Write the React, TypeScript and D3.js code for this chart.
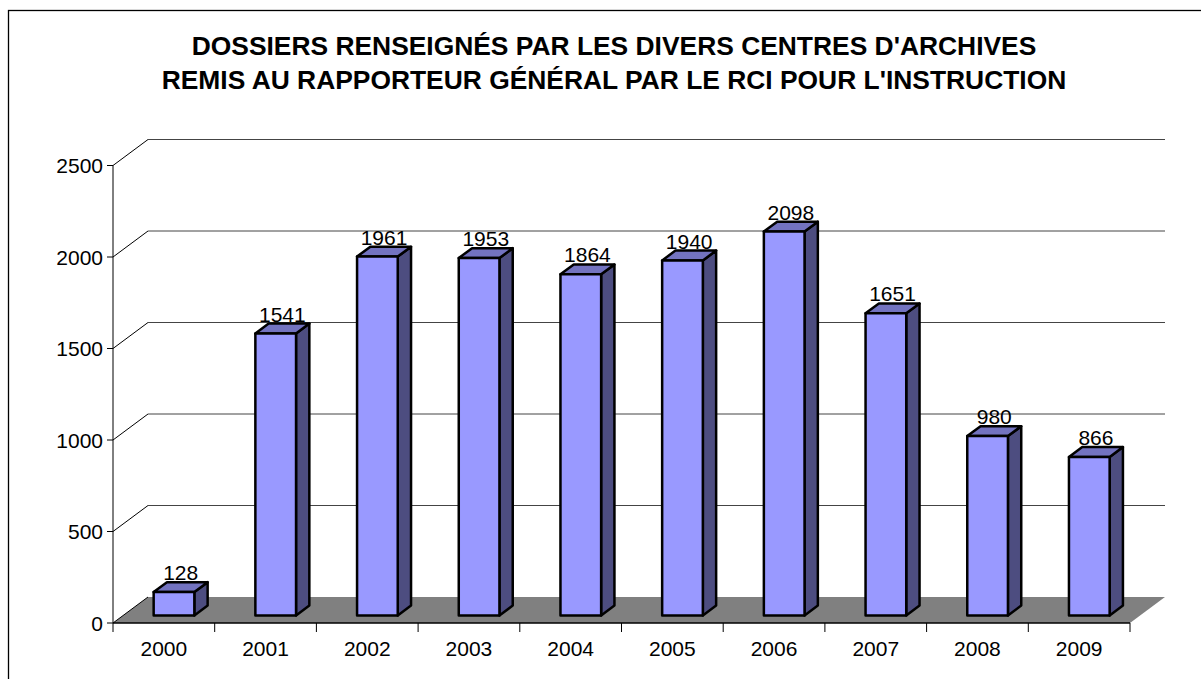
import React from "react";
import * as d3 from "d3";

const titleLines = [
  "DOSSIERS RENSEIGNÉS PAR LES DIVERS CENTRES D'ARCHIVES",
  "REMIS AU RAPPORTEUR GÉNÉRAL PAR LE RCI POUR L'INSTRUCTION",
];
const years = ["2000", "2001", "2002", "2003", "2004", "2005", "2006", "2007", "2008", "2009"];
const values = [128, 1541, 1961, 1953, 1864, 1940, 2098, 1651, 980, 866];
const yTicks = [0, 500, 1000, 1500, 2000, 2500];

const W = 1201;
const H = 679;
const FONT = "Arial, 'Liberation Sans', sans-serif";

export default function App() {
  const x = d3.scaleBand<string>().domain(years).range([113, 1130]).paddingInner(0).paddingOuter(0);
  const y = d3.scaleLinear().domain([0, 2500]).range([623, 165.5]);
  const DX = 35;
  const DY = 26;
  const d0 = 0.29;
  const d1 = 0.67;
  const bw = x.bandwidth();
  const barW = bw / 2.5;

  const floorY = y(0);
  const gridVals = yTicks.filter((t) => t > 0);

  return (
    <div style={{ position: "absolute", left: 0, top: 0 }}>
      <svg width={W} height={H} style={{ display: "block", background: "#fff" }}>
        <rect x={8.5} y={10.5} width={W + 20} height={H + 20} fill="#fff" stroke="#000" strokeWidth={1.3} />
        {titleLines.map((t, i) => (
          <text
            key={i}
            x={614}
            y={55 + i * 34}
            textAnchor="middle"
            fontFamily={FONT}
            fontWeight="bold"
            fontSize={26.4}
            fill="#000"
          >
            {t}
          </text>
        ))}

        {/* floor */}
        <polygon
          points={[
            [113, floorY],
            [113 + DX, floorY - DY],
            [1130 + DX, floorY - DY],
            [1130, floorY],
          ]
            .map((p) => p.join(","))
            .join(" ")}
          fill="#808080"
        />

        {/* gridlines */}
        {gridVals.map((v) => (
          <g key={v}>
            <line x1={113} y1={y(v)} x2={113 + DX} y2={y(v) - DY} stroke="#000" strokeWidth={1} />
            <line x1={113 + DX} y1={y(v) - DY} x2={1130 + DX} y2={y(v) - DY} stroke="#444" strokeWidth={1} />
          </g>
        ))}
        <line x1={113} y1={floorY} x2={113 + DX} y2={floorY - DY} stroke="#000" strokeWidth={1} />

        {/* y axis */}
        <line x1={113} y1={y(2500)} x2={113} y2={632} stroke="#000" strokeWidth={1} />
        {yTicks.map((t) => (
          <g key={t}>
            <line x1={107} y1={y(t)} x2={113} y2={y(t)} stroke="#000" strokeWidth={1} />
            <text
              x={103}
              y={y(t)}
              dy="0.36em"
              textAnchor="end"
              fontFamily={FONT}
              fontSize={21}
              fill="#000"
            >
              {t}
            </text>
          </g>
        ))}

        {/* x axis */}
        <line x1={113} y1={floorY} x2={1130} y2={floorY} stroke="#000" strokeWidth={1.5} />
        {years.map((yr) => (
          <line
            key={"t" + yr}
            x1={(x(yr) as number) + bw}
            y1={floorY}
            x2={(x(yr) as number) + bw}
            y2={632}
            stroke="#000"
            strokeWidth={1}
          />
        ))}
        {years.map((yr) => (
          <text
            key={"l" + yr}
            x={(x(yr) as number) + bw / 2}
            y={656}
            textAnchor="middle"
            fontFamily={FONT}
            fontSize={21}
            fill="#000"
          >
            {yr}
          </text>
        ))}

        {/* bars */}
        {years.map((yr, i) => {
          const v = values[i];
          const left = (x(yr) as number) + bw / 2 - barW / 2 + DX * d0;
          const right = left + barW;
          const bottom = y(0) - DY * d0;
          const top = y(v) - DY * d0;
          const ox = DX * (d1 - d0);
          const oy = DY * (d1 - d0);
          const pts = (a: number[][]) => a.map((p) => p.join(",")).join(" ");
          return (
            <g key={"b" + yr} stroke="#000" strokeWidth={2.5} strokeLinejoin="round">
              <polygon
                points={pts([
                  [right, top],
                  [right + ox, top - oy],
                  [right + ox, bottom - oy],
                  [right, bottom],
                ])}
                fill="#4D4D80"
              />
              <polygon
                points={pts([
                  [left, top],
                  [right, top],
                  [right + ox, top - oy],
                  [left + ox, top - oy],
                ])}
                fill="#7373C0"
              />
              <rect x={left} y={top} width={barW} height={bottom - top} fill="#9999FF" />
              <text
                x={(left + right) / 2 + ox / 2}
                y={top - oy - 2}
                textAnchor="middle"
                fontFamily={FONT}
                fontSize={21}
                fill="#000"
                stroke="none"
              >
                {v}
              </text>
            </g>
          );
        })}
      </svg>
    </div>
  );
}
